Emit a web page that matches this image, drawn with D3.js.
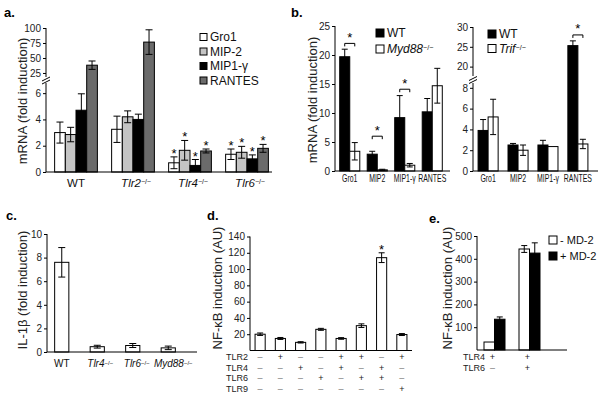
<!DOCTYPE html>
<html>
<head>
<meta charset="utf-8">
<script src="https://cdn.jsdelivr.net/npm/d3@7"></script>
<style>
  body { margin: 0; background: #fff; }
  svg { display: block; font-family: "Liberation Sans", Arial, sans-serif; }
</style>
</head>
<body>
<svg id="fig" width="600" height="394"></svg>
<script>
// ---- panel a: chemokine mRNA, WT and knockouts ----
const aGroups = ['WT', 'Tlr2−/−', 'Tlr4−/−', 'Tlr6−/−'];
const aSeries = ['Gro1', 'MIP-2', 'MIP1-γ', 'RANTES'];
const aGro1 = [3.0, 3.25, 0.7, 1.35];
const aGro1Err = [0.8, 1.0, 0.45, 0.4];
const aMip2 = [2.85, 4.2, 1.65, 1.5];
const aMip2Err = [0.55, 0.45, 0.75, 0.45];
const aMip1g = [4.7, 4.0, 0.5, 1.0];
const aMip1gErr = [1.25, 0.4, 0.45, 0.3];
const aRantes = [38, 76.5, 1.6, 1.8];
const aRantesErr = [7, 20.5, 0.15, 0.3];
const aStar = [false, false, true, true];
const aTicks = [0, 2, 4, 6, 25, 50, 75, 100];

// ---- panel b: MyD88 / TRIF dependence ----
const bCats = ['Gro1', 'MIP2', 'MIP1-γ', 'RANTES'];
const bWT = [19.7, 2.9, 9.2, 10.2];
const bWTErr = [1.3, 0.5, 3.8, 2.3];
const bMyd = [3.4, 0.2, 1.0, 14.7];
const bMydErr = [1.5, 0.1, 0.3, 3.0];
const bMydSig = [22, 6, 14.1, null];
const bTicks = [0, 5, 10, 15, 20, 25];
const bWT2 = [3.9, 2.5, 2.5, 25.3];
const bWT2Err = [1.05, 0.15, 0.45, 1.2];
const bTrif = [5.2, 2.0, 2.35, 2.6];
const bTrifErr = [1.7, 0.5, 0, 0.45];
const bTrifSig = [null, null, null, 28];
const bTicks2 = [0, 2, 4, 6, 8, 20, 25, 30];

// ---- panel c: IL-1b ----
const cCats = ['WT', 'Tlr4−/−', 'Tlr6−/−', 'Myd88−/−'];
const cVals = [7.6, 0.45, 0.55, 0.35];
const cErr = [1.25, 0.12, 0.17, 0.15];
const cTicks = [0, 2, 4, 6, 8, 10];

// ---- panel d: NF-kB reporter, TLR combinations ----
const dVals = [20, 14.8, 10, 26, 14.8, 30.5, 114, 19.6];
const dErr = [1.5, 1.2, 0.8, 1.2, 1.0, 2.2, 6, 1.2];
const dStar = [false, false, false, false, false, false, true, false];
const dTLR2 = ['–', '+', '–', '–', '+', '+', '–', '+'];
const dTLR4 = ['–', '–', '+', '–', '+', '–', '+', '–'];
const dTLR6 = ['–', '–', '–', '+', '–', '+', '+', '–'];
const dTLR9 = ['–', '–', '–', '–', '–', '–', '–', '+'];
const dTicks = [20, 40, 60, 80, 100, 120, 140];

// ---- panel e: MD-2 ----
const eNoMD2 = [35, 443];
const eNoMD2Err = [0, 15];
const eMD2 = [135, 425];
const eMD2Err = [10, 45];
const eTLR4 = ['+', '+'];
const eTLR6 = ['–', '+'];
const eTicks = [100, 200, 300, 400, 500];

const svg = d3.select('#fig');
const FONT = '"Liberation Sans", Arial, sans-serif';
const ROW = 10.6;

// gene knockouts: italic name with a small raised −/−
function koLabel(sel, label) {
  const m = label.match(/^(.*?)(−\/−)?$/);
  if (!m[2]) { sel.text(label); return; }
  sel.append('tspan').attr('font-style', 'italic').text(m[1]);
  sel.append('tspan').attr('font-size', '0.6em').attr('dy', '-0.4em').text('−/−');
}

function leftAxis(g, y, ticks, x) {
  g.append('g')
    .attr('transform', 'translate(' + x + ',0)')
    .attr('font-family', FONT)
    .attr('font-size', 10)
    .call(d3.axisLeft(y).tickValues(ticks).tickSize(3).tickPadding(2).tickSizeOuter(0))
    .call(a => a.select('.domain').remove())
    .call(a => a.selectAll('text').attr('fill', '#222'));
}

function line(g, x1, y1, x2, y2) {
  g.append('line').attr('x1', x1).attr('y1', y1).attr('x2', x2).attr('y2', y2)
    .attr('stroke', '#000').attr('stroke-width', 1);
}

function errBar(g, cx, yTop, yBot, half) {
  if (Math.abs(yTop - yBot) < 0.5) return;
  line(g, cx, yTop, cx, yBot);
  line(g, cx - half, yTop, cx + half, yTop);
  line(g, cx - half, yBot, cx + half, yBot);
}

function star(g, cx, y) {
  g.append('text').attr('x', cx).attr('y', y).attr('text-anchor', 'middle')
    .attr('font-size', 13).text('*');
}

function title(g, x, y, txt) {
  g.append('text').attr('transform', 'translate(' + x + ',' + y + ') rotate(-90)')
    .attr('text-anchor', 'middle').attr('font-size', 13).attr('fill', '#222').text(txt);
}

function panelLetter(x, y, txt) {
  svg.append('text').attr('x', x).attr('y', y).attr('font-size', 13)
    .attr('font-weight', 'bold').text(txt);
}

function breakMarks(g, x, y) {
  line(g, x - 4, y + 1, x + 4, y - 3);
  line(g, x - 4, y + 4, x + 4, y);
}

function legend(g, x, y, step, items, size, fs) {
  items.forEach((it, i) => {
    g.append('rect').attr('x', x).attr('y', y + i * step - size / 2)
      .attr('width', size).attr('height', size)
      .attr('fill', it.fill).attr('stroke', '#000');
    const t = g.append('text').attr('x', x + size + 3).attr('y', y + i * step + fs * 0.36)
      .attr('font-size', fs).attr('fill', '#111');
    koLabel(t, it.label);
  });
}

// narrow category labels under panel b
function narrowLabels(g, x0, cats, yy) {
  g.append('g').selectAll('text').data(cats).join('text')
    .attr('transform', d => 'translate(' + (x0(d) + x0.bandwidth() / 2) + ',' + yy + ') scale(0.66,1)')
    .attr('text-anchor', 'middle').attr('font-size', 10.5).attr('fill', '#111')
    .text(d => d);
}

// +/– table under panels d and e
function signTable(g, rows, labelX, xc, y0) {
  rows.forEach(([name, signs], r) => {
    const yy = y0 + r * ROW;
    g.append('text').attr('x', labelX).attr('y', yy).attr('font-size', 9).attr('fill', '#222').text(name);
    g.append('g').selectAll('text').data(signs).join('text')
      .attr('x', (s, i) => xc(i)).attr('y', yy)
      .attr('text-anchor', 'middle').attr('font-size', 9)
      .attr('fill', s => s === '+' ? '#222' : '#777').text(s => s);
  });
}

// grouped bar drawing shared by a, b, e
function groupedBars(g, x0, x1, y, keys, groups, vals, errs, fills, cap) {
  keys.forEach((k, si) => {
    g.append('g').selectAll('rect').data(groups).join('rect')
      .attr('x', d => x0(d) + x1(k))
      .attr('y', (d, i) => y(vals[si][i]))
      .attr('width', x1.bandwidth())
      .attr('height', (d, i) => y(0) - y(vals[si][i]))
      .attr('fill', fills[si])
      .attr('stroke', '#000');
  });
  keys.forEach((k, si) => {
    groups.forEach((d, i) => {
      const cx = x0(d) + x1(k) + x1.bandwidth() / 2;
      const v = vals[si][i], e = errs[si][i];
      errBar(g, cx, y(v + e), y(Math.max(v - e, 0)), cap);
    });
  });
}

// ================= a =================
{
  const g = svg.append('g');
  const x0 = d3.scaleBand().domain(aGroups).range([47.5, 275.5]).paddingInner(0.25).paddingOuter(0.125);
  const x1 = d3.scaleBand().domain(aSeries).range([0, x0.bandwidth()]);
  const y = d3.scaleLinear().domain([0, 7, 13.3, 100]).range([172, 80, 80, 28]);
  const vals = [aGro1, aMip2, aMip1g, aRantes];
  const errs = [aGro1Err, aMip2Err, aMip1gErr, aRantesErr];
  const fills = ['#ffffff', '#c4c4c4', '#000000', '#6b6b6b'];
  groupedBars(g, x0, x1, y, aSeries, aGroups, vals, errs, fills, 3.5);
  aGroups.forEach((d, i) => {
    if (!aStar[i]) return;
    aSeries.forEach((k, si) => {
      star(g, x0(d) + x1(k) + x1.bandwidth() / 2, y(vals[si][i] + errs[si][i]) + 1);
    });
  });
  leftAxis(g, y, aTicks, 46);
  line(g, 46, 172, 46, 83);
  line(g, 46, 77, 46, 28);
  breakMarks(g, 46, 80);
  line(g, 46, 172, 272, 172);
  aGroups.forEach(d => {
    const t = g.append('text').attr('x', x0(d) + x0.bandwidth() / 2 + (d === 'WT' ? 0 : 3))
      .attr('y', 187).attr('text-anchor', 'middle').attr('font-size', 11.5).attr('fill', '#111');
    koLabel(t, d);
  });
  title(g, 27, 101, 'mRNA (fold induction)');
  legend(g, 200, 37, 14.5, aSeries.map((s, i) => ({ label: s, fill: fills[i] })), 7, 12);
  panelLetter(4, 17, 'a.');
}

// ================= b (left, MyD88) =================
{
  const g = svg.append('g');
  const x0 = d3.scaleBand().domain(bCats).range([336, 446]).paddingInner(0.27).paddingOuter(0.135);
  const x1 = d3.scaleBand().domain(['WT', 'KO']).range([0, x0.bandwidth()]);
  const y = d3.scaleLinear().domain([0, 25]).range([171, 26]);
  groupedBars(g, x0, x1, y, ['WT', 'KO'], bCats, [bWT, bMyd], [bWTErr, bMydErr], ['#000', '#fff'], 3);
  bCats.forEach((d, i) => {
    if (bMydSig[i] == null) return;
    const xa = x0(d) + x1('WT') + x1.bandwidth() / 2, xb = x0(d) + x1('KO') + x1.bandwidth() / 2;
    const yy = y(bMydSig[i]);
    line(g, xa, yy, xb, yy); line(g, xa, yy, xa, yy + 3); line(g, xb, yy, xb, yy + 3);
    star(g, (xa + xb) / 2, yy - 1.5);
  });
  leftAxis(g, y, bTicks, 335);
  line(g, 335, 171, 335, 26);
  line(g, 335, 171, 450, 171);
  narrowLabels(g, x0, bCats, 182);
  title(g, 317, 100, 'mRNA (fold induction)');
  legend(g, 376, 33, 16, [{ label: 'WT', fill: '#000' }, { label: 'Myd88−/−', fill: '#fff' }], 8, 12);
  panelLetter(291, 17, 'b.');
}

// ================= b (right, TRIF) =================
{
  const g = svg.append('g');
  const x0 = d3.scaleBand().domain(bCats).range([473, 593]).paddingInner(0.33).paddingOuter(0.17);
  const x1 = d3.scaleBand().domain(['WT', 'KO']).range([0, x0.bandwidth()]);
  const y = d3.scaleLinear().domain([0, 8.8, 16.75, 30]).range([171, 79.5, 79.5, 27]);
  groupedBars(g, x0, x1, y, ['WT', 'KO'], bCats, [bWT2, bTrif], [bWT2Err, bTrifErr], ['#000', '#fff'], 3);
  bCats.forEach((d, i) => {
    if (bTrifSig[i] == null) return;
    const xa = x0(d) + x1('WT') + x1.bandwidth() / 2, xb = x0(d) + x1('KO') + x1.bandwidth() / 2;
    const yy = y(bTrifSig[i]);
    line(g, xa, yy, xb, yy); line(g, xa, yy, xa, yy + 3); line(g, xb, yy, xb, yy + 3);
    star(g, (xa + xb) / 2, yy - 1.5);
  });
  leftAxis(g, y, bTicks2, 473);
  line(g, 473, 171, 473, 83);
  line(g, 473, 76, 473, 27);
  breakMarks(g, 473, 79.5);
  line(g, 473, 171, 598, 171);
  narrowLabels(g, x0, bCats, 182);
  legend(g, 488, 34, 14.5, [{ label: 'WT', fill: '#000' }, { label: 'Trif−/−', fill: '#fff' }], 8, 12);
}

// ================= c =================
{
  const g = svg.append('g');
  const x = d3.scaleBand().domain(cCats).range([44, 186]).paddingInner(0.6).paddingOuter(0.3);
  const y = d3.scaleLinear().domain([0, 10]).range([352, 234]);
  g.selectAll('rect').data(cCats).join('rect')
    .attr('x', d => x(d)).attr('y', (d, i) => y(cVals[i]))
    .attr('width', x.bandwidth()).attr('height', (d, i) => y(0) - y(cVals[i]))
    .attr('fill', '#fff').attr('stroke', '#000');
  cCats.forEach((d, i) => errBar(g, x(d) + x.bandwidth() / 2, y(cVals[i] + cErr[i]), y(cVals[i] - cErr[i]), 3.5));
  leftAxis(g, y, cTicks, 47);
  line(g, 47, 352, 47, 234);
  line(g, 47, 352, 197, 352);
  cCats.forEach((d, i) => {
    const t = g.append('text').attr('x', x(d) + x.bandwidth() / 2 + (i === 0 ? 0 : 2 + i))
      .attr('y', 367).attr('text-anchor', 'middle').attr('font-size', 10).attr('fill', '#111');
    koLabel(t, d);
  });
  title(g, 27, 290, 'IL-1β (fold induction)');
  panelLetter(6, 220, 'c.');
}

// ================= d =================
{
  const g = svg.append('g');
  const idx = d3.range(dVals.length);
  const x = d3.scaleBand().domain(idx).range([250, 412]).paddingInner(0.5).paddingOuter(0.25);
  const y = d3.scaleLinear().domain([0, 140]).range([350.5, 236.5]);
  g.selectAll('rect').data(idx).join('rect')
    .attr('x', d => x(d)).attr('y', d => y(dVals[d]))
    .attr('width', x.bandwidth()).attr('height', d => y(0) - y(dVals[d]))
    .attr('fill', '#fff').attr('stroke', '#000');
  idx.forEach(d => {
    const cx = x(d) + x.bandwidth() / 2;
    errBar(g, cx, y(dVals[d] + dErr[d]), y(dVals[d] - dErr[d]), 3);
    if (dStar[d]) star(g, cx, y(dVals[d] + dErr[d]) + 1);
  });
  leftAxis(g, y, dTicks, 250);
  line(g, 250, 350.5, 250, 236.5);
  line(g, 250, 350.5, 412, 350.5);
  signTable(g, [['TLR2', dTLR2], ['TLR4', dTLR4], ['TLR6', dTLR6], ['TLR9', dTLR9]],
    226, i => x(i) + x.bandwidth() / 2, 360);
  title(g, 222, 288, 'NF-κB induction (AU)');
  panelLetter(207, 220, 'd.');
}

// ================= e =================
{
  const g = svg.append('g');
  const idx = d3.range(eNoMD2.length);
  const x0 = d3.scaleBand().domain(idx).range([477, 547]).paddingInner(0.4).paddingOuter(0.2);
  const x1 = d3.scaleBand().domain(['no', 'md2']).range([0, x0.bandwidth()]);
  const y = d3.scaleLinear().domain([0, 500]).range([350, 236]);
  groupedBars(g, x0, x1, y, ['no', 'md2'], idx, [eNoMD2, eMD2], [eNoMD2Err, eMD2Err], ['#fff', '#000'], 3);
  leftAxis(g, y, eTicks, 477);
  line(g, 477, 350, 477, 236);
  line(g, 477, 350, 567, 350);
  signTable(g, [['TLR4', eTLR4], ['TLR6', eTLR6]],
    463, i => x0(i) + x0.bandwidth() / 2 - 2, 360);
  title(g, 452, 288, 'NF-κB induction (AU)');
  legend(g, 549, 240, 16, [{ label: '- MD-2', fill: '#fff' }, { label: '+ MD-2', fill: '#000' }], 8, 11);
  panelLetter(429, 223, 'e.');
}
</script>
</body>
</html>
